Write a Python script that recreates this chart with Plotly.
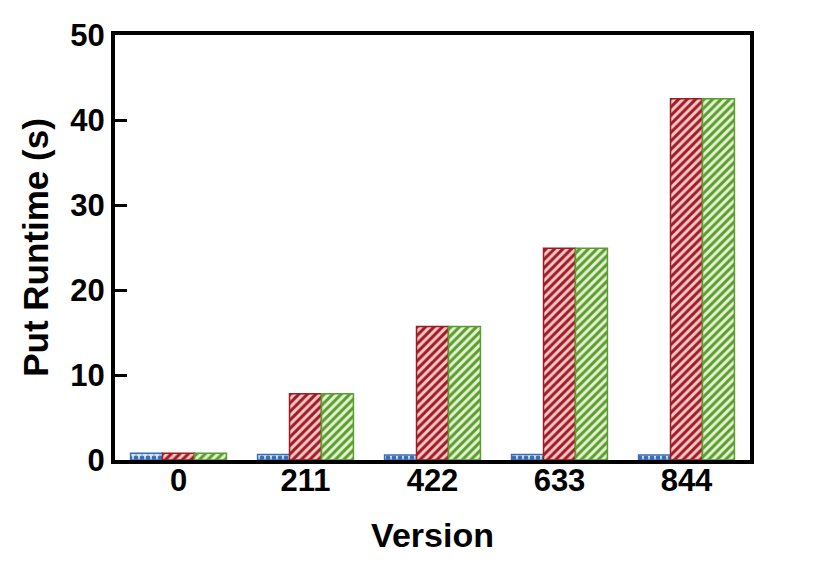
import plotly.graph_objects as go

versions = ["0", "211", "422", "633", "844"]
blue_vals = [0.8, 0.65, 0.6, 0.65, 0.6]
red_vals = [0.8, 7.8, 15.7, 24.9, 42.5]
green_vals = [0.8, 7.8, 15.7, 24.9, 42.5]

series = [
    ("Blue", blue_vals, "#3a6fb5", "#d5e4f5", "."),
    ("Red", red_vals, "#a01a22", "#f5c8c8", "/"),
    ("Green", green_vals, "#5a9d2e", "#e4f2d2", "/"),
]

fig = go.Figure()
for name, vals, fg, bg, shape in series:
    fig.add_trace(go.Bar(
        x=versions, y=vals, name=name,
        marker=dict(
            color=bg,
            line=dict(color=fg, width=1.5),
            pattern=dict(shape=shape, fgcolor=fg, bgcolor=bg, size=6, solidity=0.5, fillmode="replace"),
        ),
    ))

font_family = "Liberation Sans, Arial, sans-serif"
fig.update_layout(
    template="none",
    width=830, height=568,
    margin=dict(l=107, r=88, t=27, b=116, pad=0),
    plot_bgcolor="white", paper_bgcolor="white",
    barmode="group", bargap=0.245, bargroupgap=0,
    showlegend=False,
    font=dict(family=font_family, color="black"),
)
fig.update_xaxes(
    type="category", automargin=False,
    range=[-0.5, 4.5],
    showline=True, linecolor="black", linewidth=4, mirror=True,
    ticks="", showgrid=False, zeroline=False,
    ticklabelstandoff=-10,
    tickfont=dict(size=31, family=font_family, weight=700),
    title=dict(text="Version", font=dict(size=34, family=font_family, weight=700), standoff=27),
)
fig.update_yaxes(
    range=[0, 50], dtick=10, automargin=False,
    showline=True, linecolor="black", linewidth=4, mirror=True,
    ticks="inside", ticklen=12, tickwidth=3, tickcolor="black",
    showgrid=False, zeroline=False,
    tickfont=dict(size=31, family=font_family, weight=700),
    title=dict(text="Put Runtime (s)", font=dict(size=35, family=font_family, weight=700), standoff=12),
)

fig.write_html("out.html")
